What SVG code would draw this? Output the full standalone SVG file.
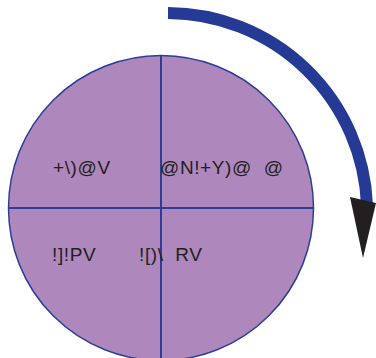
<svg xmlns="http://www.w3.org/2000/svg" width="376" height="358" viewBox="0 0 376 358">
<style>
.lbl{font-family:"Liberation Sans",Arial,sans-serif;font-size:19px;fill:#231f20;letter-spacing:0.6px}
.div{stroke:#2b3f97;stroke-width:2;fill:none}
</style>
<g id="circle">
<circle cx="161" cy="208" r="152.5" fill="#ae88bd" stroke="#2b3f97" stroke-width="1.5"/>
</g>
<g id="connectors">
<line class="div" x1="8.5" y1="208" x2="313.5" y2="208"/>
<line class="div" x1="161" y1="55.5" x2="161" y2="358"/>
<path d="M168 13 A200 200 0 0 1 367 205" fill="none" stroke="#253a94" stroke-width="12"/>
<polygon points="350,197 376,203 363,258" fill="#231f20"/>
</g>
<g id="q1"><text class="lbl" x="53" y="174">+\)@V</text></g>
<g id="q2"><text class="lbl" x="160" y="174" xml:space="preserve">@N!+Y)@  @</text></g>
<g id="q3"><text class="lbl" x="52" y="261">!]!PV</text></g>
<g id="q4"><text class="lbl" x="139" y="261" xml:space="preserve">![)\  RV</text></g>
</svg>
